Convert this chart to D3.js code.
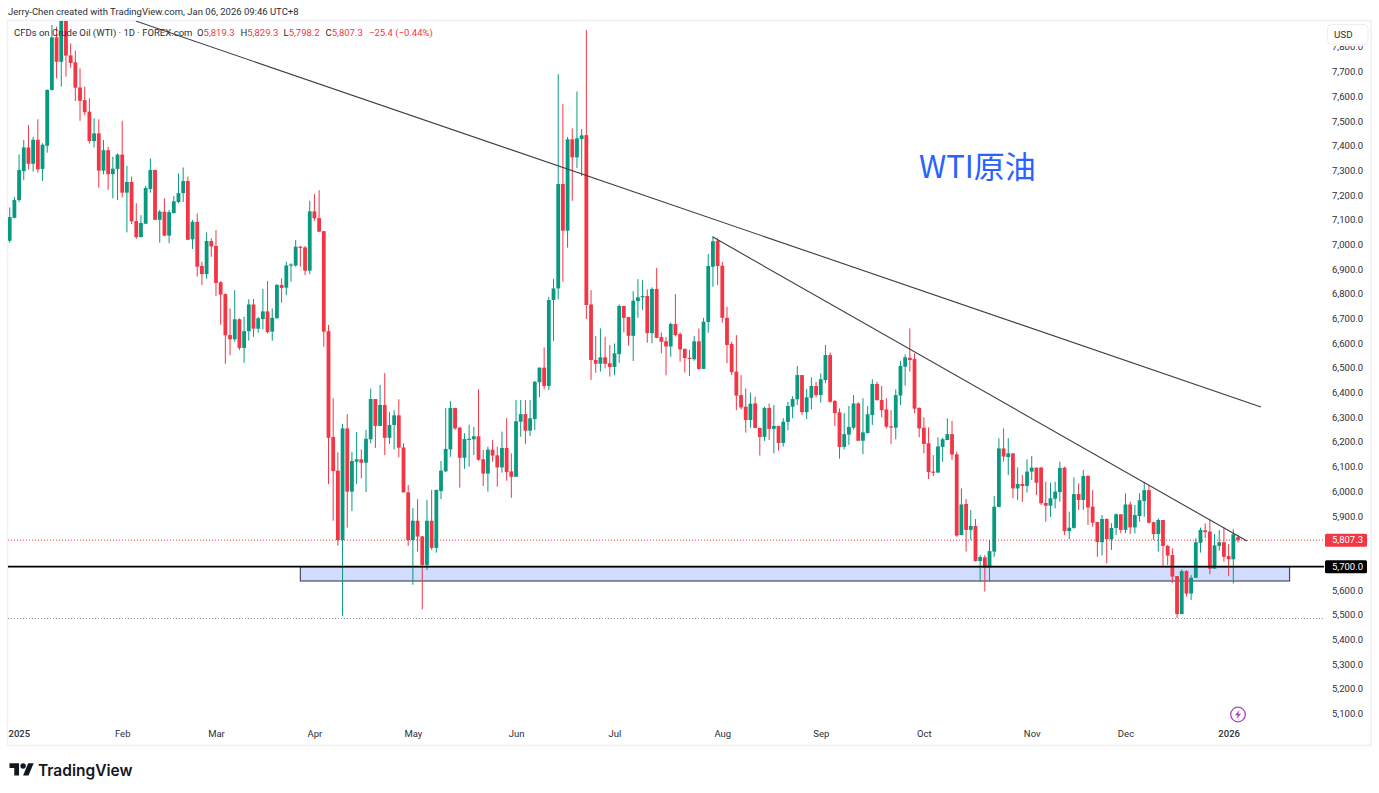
<!DOCTYPE html>
<html>
<head>
<meta charset="utf-8">
<title>CFDs on Crude Oil (WTI)</title>
<script src="https://cdn.jsdelivr.net/npm/d3@7"></script>
<style>
  html, body { margin: 0; padding: 0; background: #fff; overflow: hidden; }
  svg { display: block; font-family: Roboto, "Liberation Sans", sans-serif; }
</style>
</head>
<body>
<svg id="chart" width="1379" height="793"></svg>
<script>
// Daily candles, first to last session.
const opens = [
7020,7113,7185,7302,7398,7332,7429,7311,7405,7631,
7844,7745,7941,7771,7743,7641,7590,7543,7424,7455,
7304,7387,7290,7311,7369,7215,7258,7100,7035,7089,
7230,7307,7105,7138,7041,7132,7177,7213,7262,7026,
7097,6918,6885,7019,6999,6852,6804,6638,6621,6702,
6586,6654,6762,6664,6703,6734,6652,6706,6841,6830,
6920,6920,6996,6993,6899,7139,7112,7059,6654,6225,
6089,5808,6260,6004,6125,6135,6121,6216,6379,6270,
6355,6222,6274,6313,6183,6001,5808,5886,5823,5707,
5886,5776,6006,6086,6175,6343,6263,6141,6214,6216,
6228,6135,6077,6174,6151,6102,6181,6086,6064,6287,
6318,6251,6298,6447,6506,6432,6780,6827,7250,7061,
7431,7358,7432,7448,6762,6537,6522,6548,6524,6509,
6561,6756,6711,6635,6776,6792,6796,6646,6825,6630,
6613,6592,6683,6642,6582,6546,6540,6613,6501,6691,
6915,7020,6919,6708,6602,6490,6395,6348,6294,6361,
6262,6226,6343,6258,6270,6201,6286,6348,6378,6476,
6326,6384,6432,6395,6456,6557,6371,6325,6185,6235,
6263,6361,6210,6241,6314,6440,6375,6337,6268,6263,
6393,6510,6546,6541,6343,6263,6200,6085,6081,6185,
6213,6237,6155,5828,5954,5849,5865,5723,5738,5696,
5761,5942,6179,6144,6159,6017,6035,6027,6085,6101,
6101,5958,5947,5975,6002,6101,5844,5857,5994,5970,
6067,5943,5881,5799,5893,5811,5857,5912,5849,5952,
5859,5905,5966,6010,5880,5832,5889,5784,5747,5662,
5508,5682,5591,5655,5797,5847,5842,5692,5784,5799,
5743,5730,5819.3];

const highs = [
7155,7198,7370,7428,7489,7441,7512,7415,7633,7894,
7887,7968,7981,7819,7790,7718,7644,7597,7516,7512,
7428,7401,7360,7374,7506,7323,7280,7172,7124,7242,
7354,7307,7145,7192,7145,7201,7293,7317,7280,7104,
7131,6935,7054,7030,7063,6857,6807,6746,6820,6706,
6712,6783,6784,6712,6825,6857,6746,6845,6868,6935,
6929,7023,6999,6999,7182,7209,7225,7059,6679,6382,
6163,6278,6318,6164,6245,6175,6254,6421,6379,6436,
6484,6326,6334,6378,6200,6031,5938,5973,5823,5970,
6011,6012,6128,6343,6371,6343,6267,6241,6275,6266,
6418,6172,6186,6213,6186,6247,6301,6159,6375,6375,
6375,6375,6452,6507,6588,6793,6865,7695,7574,7441,
7475,7625,7473,7874,6820,6634,6665,6631,6598,6604,
6762,6756,6712,6816,6865,6861,6823,6831,6910,6649,
6631,6688,6804,6649,6584,6578,6634,6665,6708,6966,
7039,7030,6935,6753,6611,6638,6476,6422,6405,6388,
6263,6348,6361,6355,6270,6301,6368,6391,6513,6476,
6420,6467,6449,6483,6598,6567,6375,6341,6322,6351,
6395,6366,6382,6351,6459,6449,6432,6382,6334,6418,
6534,6560,6665,6564,6345,6305,6264,6152,6224,6222,
6301,6290,6166,6017,5974,5929,5893,5747,5747,5808,
5986,6220,6260,6220,6159,6102,6071,6135,6148,6101,
6105,6044,6040,6044,6125,6105,5923,6062,6037,6092,
6071,6010,5882,5909,5896,5876,5916,5912,5997,5963,
5950,5997,6044,6028,5882,5896,5889,5788,5774,5662,
5689,5686,5666,5815,5858,5875,5892,5832,5848,5859,
5792,5851,5829.3];

const lows = [
7012,7111,7177,7266,7309,7300,7296,7263,7377,7628,
7678,7644,7685,7721,7586,7506,7529,7414,7398,7235,
7289,7226,7192,7185,7196,7054,7088,7028,7034,7088,
7215,7104,7012,7039,7010,7131,7172,7177,7023,6987,
6875,6841,6866,6955,6796,6680,6522,6557,6611,6577,
6526,6615,6631,6648,6661,6645,6615,6706,6769,6800,
6854,6915,6915,6881,6885,7101,7055,6591,6035,5886,
5785,5500,5858,5925,6035,6058,6002,6200,6181,6270,
6152,6197,6175,6143,6000,5784,5627,5761,5527,5686,
5768,5757,5973,6083,6145,6254,6020,6096,6105,6152,
6129,6027,6004,6125,6024,6081,6048,5979,6064,6226,
6197,6229,6253,6386,6418,6415,6615,6783,6854,6992,
7182,7315,7282,6703,6456,6486,6490,6503,6470,6476,
6526,6649,6595,6533,6708,6739,6607,6605,6625,6564,
6475,6550,6632,6530,6486,6472,6534,6497,6501,6648,
6834,6841,6688,6524,6476,6334,6337,6243,6263,6260,
6150,6210,6213,6159,6170,6186,6253,6301,6355,6314,
6298,6337,6386,6364,6443,6364,6270,6137,6175,6193,
6256,6210,6156,6240,6274,6372,6305,6260,6197,6216,
6355,6433,6490,6321,6224,6159,6055,6067,6081,6125,
6213,6132,5821,5828,5761,5808,5720,5639,5599,5639,
5740,5940,6125,6071,5977,5970,5963,6000,6051,5990,
5950,5882,5902,5936,5963,5828,5811,5854,5930,5930,
5869,5862,5740,5745,5714,5768,5828,5835,5835,5832,
5835,5882,5902,5875,5808,5761,5700,5707,5635,5492,
5508,5578,5565,5655,5757,5815,5669,5692,5765,5720,
5662,5632,5798.2];

const closes = [
7116,7185,7307,7398,7332,7429,7309,7409,7631,7844,
7745,7941,7770,7740,7640,7587,7541,7424,7455,7304,
7387,7290,7312,7369,7215,7258,7099,7035,7092,7234,
7307,7105,7138,7041,7136,7180,7213,7262,7024,7097,
6915,6885,7019,6997,6849,6802,6637,6621,6702,6586,
6654,6762,6664,6706,6734,6650,6708,6841,6829,6920,
6924,6996,6993,6899,7139,7111,7057,6652,6222,6087,
5808,6260,6004,6128,6135,6121,6218,6379,6270,6355,
6222,6274,6313,6182,6001,5808,5886,5822,5707,5886,
5776,6011,6089,6177,6343,6260,6141,6217,6218,6228,
6133,6077,6174,6150,6102,6181,6083,6064,6289,6318,
6251,6301,6449,6506,6432,6780,6827,7250,7061,7431,
7358,7435,7447,6760,6537,6522,6548,6522,6509,6564,
6756,6708,6635,6777,6791,6796,6646,6825,6627,6611,
6592,6683,6638,6580,6545,6542,6613,6501,6692,6918,
7018,6918,6708,6598,6488,6393,6345,6294,6360,6262,
6225,6343,6258,6270,6201,6287,6351,6379,6476,6326,
6386,6432,6395,6459,6557,6368,6322,6185,6237,6266,
6361,6210,6244,6317,6440,6375,6334,6267,6266,6395,
6513,6548,6537,6340,6260,6197,6083,6082,6187,6216,
6237,6154,5826,5952,5849,5865,5723,5739,5696,5763,
5943,6179,6146,6159,6017,6035,6027,6085,6101,6040,
5957,5947,5977,6004,6100,5844,5858,5994,5970,6067,
5940,5878,5800,5893,5811,5857,5912,5849,5952,5859,
5909,5969,6010,5878,5832,5889,5784,5745,5660,5508,
5682,5591,5655,5799,5849,5840,5692,5786,5799,5740,
5730,5831,5807.3];

// Price axis and time axis labels (session index of each month's first label).
const priceTicks = [5100,5200,5300,5400,5500,5600,5700,5800,5900,6000,6100,6200,6300,6400,6500,
                    6600,6700,6800,6900,7000,7100,7200,7300,7400,7500,7600,7700,7800];
const monthLabels = ["2025","Feb","Mar","Apr","May","Jun","Jul","Aug","Sep","Oct","Nov","Dec","2026"];
const monthSessions = [0,24,44,65,86,108,129,152,173,195,218,238,260];

// Drawings on the chart: [session, price] end points.
const trendA = [[26.9, 7910], [266.9, 6347]];
const trendB = [[150, 7035], [263.9, 5804]];
const supportLevel = 5700;
const zoneTop = 5700;
const zoneBottom = 5642;
const zoneSessions = [62, 273];
const lowLevel = 5490;
const changeText = "−25.4 (−0.44%)";
const UP = "#089981", DOWN = "#F23645", INK = "#2a2e39";

const svg = d3.select("#chart");
const fmt = d3.format(",.1f");

const x = d3.scaleLinear().domain([0, 262]).range([9.7, 1238]);
const y = d3.scaleLinear().domain([5100, 7700]).range([714.8, 72.9]);

// Outer frame of the pane
svg.append("rect").attr("x", 7.5).attr("y", 20.5).attr("width", 1363.5).attr("height", 725)
  .attr("fill", "#fff").attr("stroke", "#f0f1f4").attr("stroke-width", 1.6);

svg.append("defs").append("clipPath").attr("id", "plot")
  .append("rect").attr("x", 8).attr("y", 21).attr("width", 1316).attr("height", 724);

const plot = svg.append("g").attr("clip-path", "url(#plot)");

// Price lines behind the candles
const level = (v, stroke, width, dash) => plot.append("line")
  .attr("x1", 8).attr("x2", 1324).attr("y1", y(v)).attr("y2", y(v))
  .attr("stroke", stroke).attr("stroke-width", width).attr("stroke-dasharray", dash);

level(closes[closes.length - 1], "#F23645", 1, "1 2");
level(lowLevel, "#9a9a9a", 1, "1 2");

// Support zone
plot.append("rect")
  .attr("x", x(zoneSessions[0])).attr("width", x(zoneSessions[1]) - x(zoneSessions[0]))
  .attr("y", y(zoneTop)).attr("height", y(zoneBottom) - y(zoneTop))
  .attr("fill", "#d1dcfe").attr("stroke", "#4a4f5c").attr("stroke-width", 1.2);

// Candles: wick first, then body
const candles = plot.append("g").selectAll("g").data(opens.map((o, i) => i)).join("g")
  .attr("fill", i => closes[i] >= opens[i] ? UP : DOWN)
  .attr("stroke", i => closes[i] >= opens[i] ? UP : DOWN);

candles.append("line")
  .attr("x1", i => x(i)).attr("x2", i => x(i))
  .attr("y1", i => y(highs[i])).attr("y2", i => y(lows[i]))
  .attr("stroke-width", 1);

candles.append("rect")
  .attr("stroke", "none")
  .attr("x", i => x(i) - 1.9).attr("width", 3.8)
  .attr("y", i => y(Math.max(opens[i], closes[i])))
  .attr("height", i => Math.max(1.2, Math.abs(y(opens[i]) - y(closes[i]))));

// Support level and trend lines over the candles
level(supportLevel, "#000", 1.6, null);

const trend = d3.line().x(d => x(d[0])).y(d => y(d[1]));
[trendA, trendB].forEach(t => plot.append("path").attr("d", trend(t))
  .attr("fill", "none").attr("stroke", "#3a3d45").attr("stroke-width", 1.1));

// Annotation
svg.append("text").attr("x", 919).attr("y", 178)
  .attr("font-family", "'Noto Sans CJK SC', sans-serif").attr("font-size", 31)
  .attr("fill", "#2962FF").text("WTI原油");

// Price axis
const yAxis = svg.append("g").attr("transform", "translate(1326,0)")
  .call(d3.axisRight(y).tickValues(priceTicks).tickSize(0).tickPadding(6).tickFormat(fmt));
yAxis.select(".domain").remove();
yAxis.selectAll("text").attr("dy", "0.32em").attr("y", -1.3)
  .attr("font-family", "Roboto, sans-serif").attr("font-size", 9.5).attr("fill", INK);

// Time axis
const xAxis = svg.append("g").attr("transform", "translate(0,725.5)")
  .call(d3.axisBottom(x).tickValues(monthSessions).tickSize(0).tickPadding(5)
    .tickFormat((d, i) => monthLabels[i]));
xAxis.select(".domain").remove();
xAxis.selectAll("text").attr("font-family", "Roboto, sans-serif").attr("font-size", 9.5).attr("fill", INK)
  .attr("font-weight", (d, i) => (i === 0 || i === monthLabels.length - 1) ? 500 : 400);
xAxis.selectAll("text").filter((d, i) => i === 0).attr("text-anchor", "start").attr("x", -1.7);

// Currency box on the price axis
svg.append("rect").attr("x", 1326).attr("y", 22).attr("width", 44).attr("height", 24).attr("fill", "#fff");
svg.append("rect").attr("x", 1327.5).attr("y", 24.5).attr("width", 40.5).attr("height", 20).attr("rx", 4)
  .attr("fill", "#fff").attr("stroke", "#eceef3");
svg.append("text").attr("x", 1334).attr("y", 38).attr("font-size", 9.8).attr("fill", INK).text("USD");

// Value tags on the price axis
const tag = (v, bg) => {
  svg.append("rect").attr("x", 1325).attr("y", y(v) - 6.4).attr("width", 42).attr("height", 13).attr("rx", 1.5).attr("fill", bg);
  svg.append("text").attr("x", 1363).attr("y", y(v)).attr("dy", "0.34em").attr("text-anchor", "end")
    .attr("font-size", 9.5).attr("fill", "#fff").text(fmt(v));
};
tag(closes[closes.length - 1], DOWN);
tag(supportLevel, "#000");

// Header and legend
svg.append("text").attr("x", 8).attr("y", 15).attr("font-size", 9.5).attr("fill", INK)
  .text("Jerry-Chen created with TradingView.com, Jan 06, 2026 09:46 UTC+8");
svg.append("text").attr("x", 14).attr("y", 36).attr("font-size", 9.5).attr("fill", INK)
  .text("CFDs on Crude Oil (WTI) · 1D · FOREX.com");

const n = closes.length - 1;
[["O", opens[n], 197], ["H", highs[n], 240.5], ["L", lows[n], 283.5], ["C", closes[n], 325.5]].forEach(([k, v, px]) => {
  const t = svg.append("text").attr("x", px).attr("y", 36).attr("font-size", 9.5);
  t.append("tspan").attr("fill", INK).text(k);
  t.append("tspan").attr("fill", DOWN).text(fmt(v));
});
svg.append("text").attr("x", 369).attr("y", 36).attr("font-size", 9.5).attr("fill", DOWN).text(changeText);

// Lightning badge above the last session
const badge = svg.append("g").attr("transform", "translate(1238,714.5)");
badge.append("circle").attr("r", 7.3).attr("fill", "#fff").attr("stroke", "#ab47bc").attr("stroke-width", 1.3);
badge.append("path").attr("d", "M1.6,-4.6 L-3.2,0.8 L-0.4,0.8 L-1.6,4.6 L3.2,-0.8 L0.4,-0.8 Z").attr("fill", "#ab47bc");

// Footer wordmark
const logo = svg.append("g").attr("transform", "translate(9.5,760.5) scale(0.68)").attr("fill", "#131722");
logo.append("path").attr("d", "M14 22H7V11H0V4h14v18zM28 22h-8l7.5-18h8L28 22z");
logo.append("circle").attr("cx", 20).attr("cy", 8).attr("r", 4);
svg.append("text").attr("x", 38).attr("y", 775.5).attr("font-family", "Inter, Roboto, sans-serif")
  .attr("font-weight", 600).attr("font-size", 15.5).attr("fill", "#131722").text("TradingView");
</script>
</body>
</html>
